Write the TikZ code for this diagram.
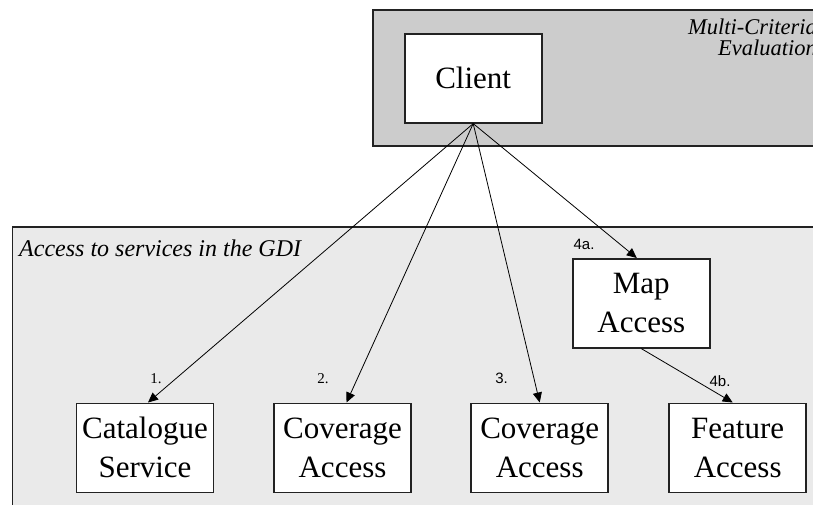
\documentclass[tikz,border=0pt]{standalone}
\usepackage{fontspec}
\setmainfont{Liberation Serif}
\newfontfamily\labelsans{Liberation Sans}
\usetikzlibrary{arrows.meta,positioning}

\definecolor{evalgrey}{HTML}{CCCCCC}
\definecolor{gdigrey}{HTML}{EAEAEA}
\definecolor{edge}{HTML}{222222}

\tikzset{
  areabox/.style={draw=edge, line width=1.6pt},
  svcbox/.style={draw=edge, fill=white, line width=1.6pt, rectangle,
    minimum width=137pt, minimum height=89pt, inner sep=0pt,
    align=center, font=\fontsize{31}{39}\selectfont},
  areatitle/.style={font=\fontsize{24}{20}\selectfont\itshape, inner sep=0pt},
  evaltitlestyle/.style={font=\fontsize{22.5}{20.5}\selectfont\itshape, inner sep=0pt},
  callarrow/.style={draw=black, line width=0.8pt,
    -{Triangle[length=10pt,width=9pt]}},
  steplabel/.style={inner sep=0pt, font=\fontsize{15}{15}\selectfont},
  steplabelsans/.style={inner sep=0pt, font=\fontsize{15}{15}\selectfont\labelsans},
}

\begin{document}
\begin{tikzpicture}[x=1pt, y=-1pt]
  \useasboundingbox (0,0) rectangle (813,504);
  \clip (0,0) rectangle (813,504);

  % the two areas
  \fill[evalgrey] (373,10) rectangle (840,146);
  \draw[areabox] (840,10) -- (373,10) -- (373,146) -- (840,146);
  \fill[gdigrey] (12.5,227) rectangle (840,520);
  \draw[areabox] (840,227) -- (12.5,227) -- (12.5,520);

  \node[evaltitlestyle, anchor=north east, align=right] (evaltitle) at (817,19)
    {Multi-Criteria\\Evaluation};
  \node[areatitle, anchor=base west] (gdititle) at (19,256) {Access to services in the GDI};

  % services
  \node[svcbox] (client) at (473.2,78.3) {Client};
  \node[svcbox] (map) at (641.3,303.3) {Map\\Access};
  \node[svcbox] (cat) at (145,447.8) {Catalogue\\Service};
  \node[svcbox] (cov1) at (342.5,447.8) {Coverage\\Access};
  \node[svcbox] (cov2) at (539.7,447.8) {Coverage\\Access};
  \node[svcbox] (feat) at (737.7,447.8) {Feature\\Access};

  % calls from the client
  \draw[callarrow] (client.south) -- ([xshift=3pt]cat.north);
  \draw[callarrow] (client.south) -- ([xshift=4pt]cov1.north);
  \draw[callarrow] (client.south) -- (cov2.north);
  \draw[callarrow] (client.south) -- ([xshift=-4.5pt]map.north);
  \draw[callarrow] (map.south) -- ([xshift=-5pt]feat.north);

  % step numbers
  \node[steplabel] (s1) at (156,378.5) {1.};
  \node[steplabel] (s2) at (323,378.5) {2.};
  \node[steplabelsans] (s3) at (501.5,378.5) {3.};
  \node[steplabelsans] (s4a) at (584,244) {4a.};
  \node[steplabelsans] (s4b) at (720,381) {4b.};
\end{tikzpicture}
\end{document}
